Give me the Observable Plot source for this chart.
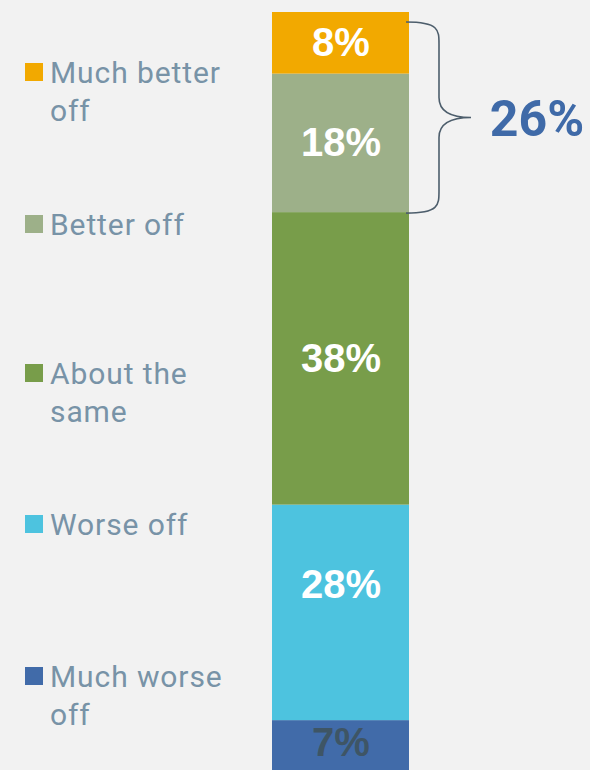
<!DOCTYPE html>
<html>
<head>
<meta charset="utf-8">
<script src="https://cdn.jsdelivr.net/npm/d3@7"></script>
<script src="https://cdn.jsdelivr.net/npm/@observablehq/plot@0.6"></script>
<style>
  html, body { margin: 0; padding: 0; background: #f2f2f2; }
  #wrap { position: relative; width: 590px; height: 770px; overflow: hidden; background: #f2f2f2; }
  #legend { position: absolute; left: 0; top: 0; font-family: Roboto, "Liberation Sans", sans-serif; }
  .item { position: absolute; left: 25px; display: flex; align-items: flex-start; }
  .sw { width: 18px; height: 18px; margin-top: 9px; margin-right: 7px; flex: none; }
  .lab { font-size: 30px; line-height: 38px; color: #7893a7; letter-spacing: 0.9px; width: 200px; }
</style>
</head>
<body>
<div id="wrap"><div id="chart"></div><div id="legend"></div></div>
<script>
// Data (top of bar to bottom)
const categories = ["Much better off", "Better off", "About the same", "Worse off", "Much worse off"];
const values = [8, 18, 38, 28, 7];
const colors = ["#f2a900", "#9db089", "#789d4a", "#4dc3df", "#416ba9"];
const labelColors = ["#ffffff", "#ffffff", "#ffffff", "#ffffff", "#3e5565"];
const legendLines = [["Much better", "off"], ["Better off"], ["About the", "same"], ["Worse off"], ["Much worse", "off"]];
const braceCategories = ["Much better off", "Better off"];
const braceLabel = "26%";

// stacked from the bottom up
const data = categories.map((c, i) => ({category: c, value: values[i], labelColor: labelColors[i]})).reverse();
const total = d3.sum(values);
const braceSum = d3.sum(categories.map((c, i) => braceCategories.includes(c) ? values[i] : 0));

const shifted = {"Worse off": -28, "Much worse off": -4};

const braceMark = (index, scales) => {
  const x0 = scales.x(1) - 3;
  const xv = x0 + 33, xp = x0 + 65;
  const yTop = scales.y(total) + 10;
  const yBot = scales.y(total - braceSum) + 1;
  const ym = (yTop + yBot) / 2;
  const path = `M${x0},${yTop} C${xv},${yTop} ${xv},${yTop+8} ${xv},${yTop+22}
    L${xv},${ym-20} C${xv},${ym-6} ${xv+12},${ym} ${xp},${ym}
    C${xv+12},${ym} ${xv},${ym+6} ${xv},${ym+20}
    L${xv},${yBot-22} C${xv},${yBot-8} ${xv},${yBot} ${x0},${yBot}`;
  const g = d3.create("svg:g");
  g.append("path").attr("d", path).attr("fill", "none").attr("stroke", "#4d5e6c").attr("stroke-width", 1.6);
  g.append("text").attr("x", xp + 66).attr("y", ym + 18)
    .attr("text-anchor", "middle")
    .attr("font-family", "Roboto, 'Liberation Sans', sans-serif")
    .attr("font-weight", 700).attr("font-size", 50).attr("fill", "#3f6aa8")
    .text(braceLabel);
  return g.node();
};

// labels: stack on the full data, show text only for selected categories
const textOpts = (show, dy) => Plot.stackY({
  x: 0.5, y: "value", text: d => show(d) ? d.value + "%" : "", fill: "labelColor",
  fontSize: 40, fontWeight: 700, fontFamily: "'Liberation Sans', Arial, sans-serif", dy
});

const plot = Plot.plot({
  width: 590,
  height: 770,
  margin: 0,
  style: {background: "transparent", overflow: "visible"},
  x: {type: "linear", domain: [0, 1], range: [272, 409], axis: null},
  y: {domain: [0, total], range: [774, 12], axis: null},
  color: {domain: categories, range: colors},
  marks: [
    Plot.rectY(data, Plot.stackY({x1: 0, x2: 1, y: "value", fill: "category"})),
    Plot.text(data, textOpts(d => !(d.category in shifted), 0)),
    ...Object.entries(shifted).map(([cat, dy]) =>
      Plot.text(data, textOpts(d => d.category === cat, dy))),
    braceMark
  ]
});
document.getElementById("chart").appendChild(plot);

// Legend
const legendTops = [54, 206, 355, 506, 658];
const legend = document.getElementById("legend");
categories.forEach((c, i) => {
  const item = document.createElement("div");
  item.className = "item";
  item.style.top = legendTops[i] + "px";
  const sw = document.createElement("div");
  sw.className = "sw";
  sw.style.background = colors[i];
  const lab = document.createElement("div");
  lab.className = "lab";
  lab.innerHTML = legendLines[i].join("<br>");
  item.appendChild(sw);
  item.appendChild(lab);
  legend.appendChild(item);
});
</script>
</body>
</html>
